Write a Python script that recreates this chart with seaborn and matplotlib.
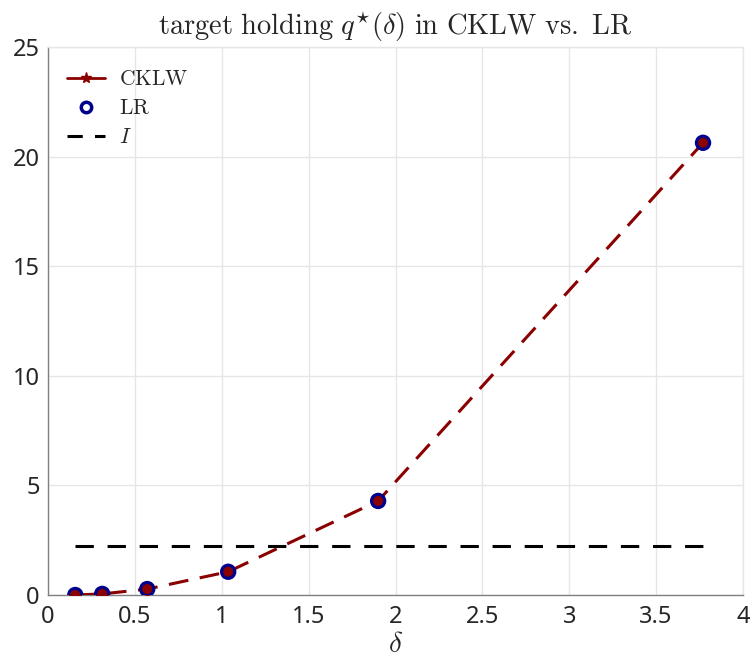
import numpy as np
import pandas as pd
import matplotlib
matplotlib.use("Agg")
import matplotlib.pyplot as plt
import seaborn as sns
from matplotlib.lines import Line2D

delta = [0.157, 0.312, 0.571, 1.037, 1.90, 3.77]
q_cklw = [0.0, 0.05, 0.27, 1.06, 4.29, 20.63]
q_lr = [0.0, 0.05, 0.27, 1.06, 4.29, 20.63]
I_level = 2.24
xticks = [0, 0.5, 1, 1.5, 2, 2.5, 3, 3.5, 4]
xticklabels = ["0", "0.5", "1", "1.5", "2", "2.5", "3", "3.5", "4"]
yticks = [0, 5, 10, 15, 20, 25]

sns.set_theme(style="white")
plt.rcParams["font.family"] = ["Noto Sans", "DejaVu Sans"]
plt.rcParams["mathtext.fontset"] = "cm"

df = pd.DataFrame({"delta": delta, "cklw": q_cklw, "lr": q_lr,
                   "I": [I_level] * len(delta)})

fig = plt.figure(figsize=(7.54, 6.67), dpi=100)
ax = fig.add_axes([48 / 754, 1 - 595 / 667, (743 - 48) / 754, (595 - 47) / 667])

red = "#8b0000"
blue = "#00008b"

sns.lineplot(data=df, x="delta", y="cklw", ax=ax, color=red, lw=2.2,
             dashes=False, marker="o", markersize=8.5, markeredgecolor=red,
             markerfacecolor=red, zorder=3)
ax.lines[-1].set_dashes([6.5, 3.8])
sns.scatterplot(data=df, x="delta", y="lr", ax=ax, s=90, facecolor="none",
                edgecolor=blue, linewidth=2.3, zorder=4)
sns.lineplot(data=df, x="delta", y="I", ax=ax, color="black", lw=2.2, zorder=2)
ax.lines[-1].set_dashes([6, 4.5])

ax.set_xlim(0, 4)
ax.set_ylim(0, 25)
ax.set_xticks(xticks)
ax.set_xticklabels(xticklabels)
ax.set_yticks(yticks)
ax.grid(True, color="#e6e6e6", lw=1)
ax.set_axisbelow(True)
for s in ["top", "right"]:
    ax.spines[s].set_color("#e6e6e6")
    ax.spines[s].set_linewidth(1)
for s in ["left", "bottom"]:
    ax.spines[s].set_color("#808080")
    ax.spines[s].set_linewidth(1)
ax.tick_params(axis="both", direction="in", length=4, width=1, color="#808080",
               labelsize=17, labelcolor="#262626", pad=6)
ax.tick_params(axis="x", pad=7)
ax.set_xlabel(r"$\delta$", fontsize=21, labelpad=1)
ax.set_ylabel("")
ax.set_title(r"$\mathrm{target\ holding\ }q^{\star}(\delta)\mathrm{\ in\ CKLW\ vs.\ LR}$",
             fontsize=20.5, pad=9)

handles = [
    Line2D([], [], color=red, lw=2, marker="*", markersize=8),
    Line2D([], [], color="none", marker="o", markersize=7.5, markerfacecolor="none",
           markeredgecolor=blue, markeredgewidth=2.5),
    Line2D([], [], color="black", lw=2.2, dashes=[5, 4]),
]
labels = [r"$\mathrm{CKLW}$", r"$\mathrm{LR}$", r"$I$"]
ax.legend(handles, labels, loc="upper left", frameon=False, fontsize=15.5,
          handlelength=1.75, handletextpad=0.65, labelspacing=0.38,
          bbox_to_anchor=(0.0, 0.995))

fig.savefig("out.png", dpi=100)
